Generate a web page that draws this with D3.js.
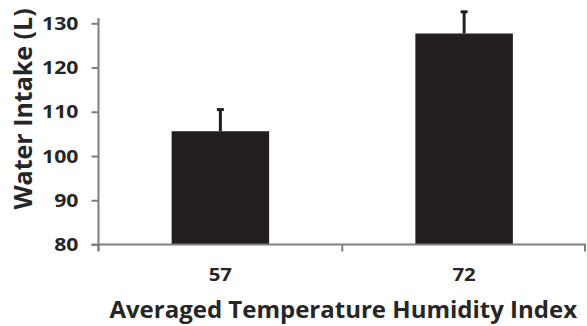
<!DOCTYPE html>
<html>
<head>
<meta charset="utf-8">
<script src="https://cdn.jsdelivr.net/npm/d3@7"></script>
<style>
  html, body { margin: 0; padding: 0; background: #fff; }
  svg { display: block; }
  text { font-family: "Open Sans", "Liberation Sans", sans-serif; font-weight: bold; fill: #262626; }
</style>
</head>
<body>
<svg id="chart" width="587" height="326"></svg>
<script>
// ---- data ----
const categories = ["57", "72"];
const waterIntake = [105.6, 127.7];
const errorUp = [4.9, 4.9];
const yTicks = [80, 90, 100, 110, 120, 130];
const yTitle = "Water Intake (L)";
const xTitle = "Averaged Temperature Humidity Index";

// ---- layout ----
const svg = d3.select("#chart");
const mLeft = 98.5, mRight = 586, mBottom = 244.5, mTop = 18;

const x = d3.scaleBand().domain(categories).range([mLeft, mRight]).padding(0);
const y = d3.scaleLinear().domain([80, 131.2]).range([mBottom, mTop]);

const axisColor = "#7f7f7f";
const barColor = "#231f20";

// bars
const barW = x.bandwidth() * 0.4;
svg.selectAll("rect.bar")
  .data(categories)
  .enter().append("rect")
  .attr("class", "bar")
  .attr("x", (d) => x(d) + x.bandwidth() / 2 - barW / 2)
  .attr("y", (d, i) => y(waterIntake[i]))
  .attr("width", barW)
  .attr("height", (d, i) => y(80) - y(waterIntake[i]))
  .attr("fill", barColor);

// error bars (upper only)
const eb = svg.selectAll("g.err").data(categories).enter().append("g").attr("class", "err");
eb.append("line")
  .attr("x1", (d) => x(d) + x.bandwidth() / 2)
  .attr("x2", (d) => x(d) + x.bandwidth() / 2)
  .attr("y1", (d, i) => y(waterIntake[i]))
  .attr("y2", (d, i) => y(waterIntake[i] + errorUp[i]))
  .attr("stroke", barColor).attr("stroke-width", 3);
eb.append("line")
  .attr("x1", (d) => x(d) + x.bandwidth() / 2 - 3.5)
  .attr("x2", (d) => x(d) + x.bandwidth() / 2 + 3.5)
  .attr("y1", (d, i) => y(waterIntake[i] + errorUp[i]))
  .attr("y2", (d, i) => y(waterIntake[i] + errorUp[i]))
  .attr("stroke", barColor).attr("stroke-width", 3);

// y axis
const yAxis = svg.append("g")
  .attr("transform", `translate(${mLeft},0)`)
  .call(d3.axisLeft(y).tickValues(yTicks).tickSize(7).tickSizeOuter(0).tickFormat(d3.format("d")));
yAxis.select(".domain").attr("stroke", axisColor).attr("stroke-width", 2)
  .attr("d", `M0,${y(80) + 6}V${mTop}`);
yAxis.selectAll(".tick line").attr("stroke", axisColor).attr("stroke-width", 2);
yAxis.selectAll(".tick text")
  .attr("x", 0).attr("dy", "0.36em")
  .attr("transform", "translate(-20,0) scale(1.25,1)")
  .attr("text-anchor", "end")
  .style("font-size", "17px")
  .attr("font-family", null)
  .attr("font-size", null);

// x axis
const xAxis = svg.append("g")
  .attr("transform", `translate(0,${mBottom})`)
  .call(d3.axisBottom(x).tickSize(0).tickSizeOuter(0));
xAxis.attr("font-family", null).attr("font-size", null);
yAxis.attr("font-family", null).attr("font-size", null);
xAxis.select(".domain").attr("stroke", axisColor).attr("stroke-width", 2)
  .attr("d", `M${mLeft - 7},0H${mRight}`);
xAxis.selectAll(".tick text")
  .attr("y", 0).attr("dy", 0)
  .attr("transform", "translate(0,36) scale(1.2,1)")
  .style("font-size", "17px");
// category boundary ticks
const bounds = categories.map((d) => x(d)).concat([x.range()[1]]);
xAxis.selectAll("line.bound").data(bounds).enter().append("line")
  .attr("class", "bound")
  .attr("x1", (d) => Math.min(d, mRight - 1)).attr("x2", (d) => Math.min(d, mRight - 1))
  .attr("y1", 0).attr("y2", 7)
  .attr("stroke", axisColor).attr("stroke-width", 2);

// titles
svg.append("text")
  .attr("transform", `translate(32,109) rotate(-90)`)
  .attr("text-anchor", "middle")
  .style("font-size", "25px")
  .text(yTitle);

svg.append("text")
  .attr("x", (mLeft + mRight) / 2 + 1)
  .attr("y", 318)
  .attr("text-anchor", "middle")
  .style("font-size", "24px")
  .text(xTitle);
</script>
</body>
</html>
